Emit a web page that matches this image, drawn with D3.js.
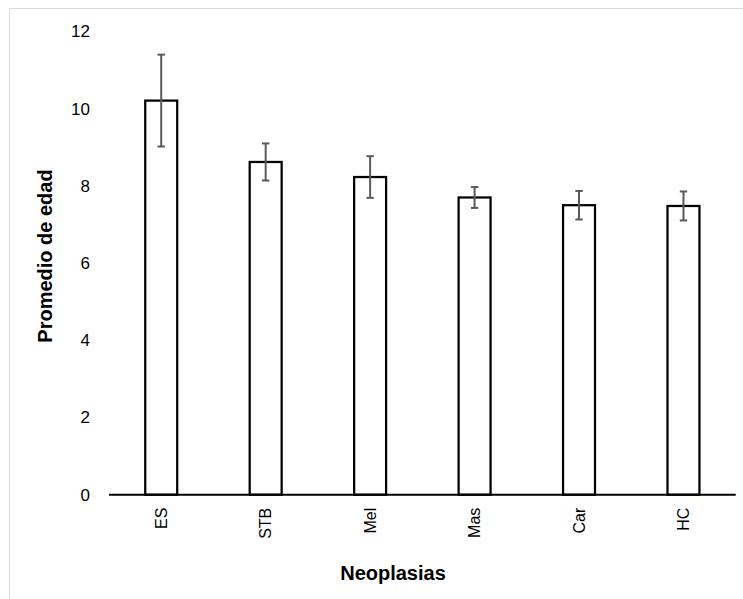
<!DOCTYPE html>
<html>
<head>
<meta charset="utf-8">
<script src="https://cdn.jsdelivr.net/npm/d3@7"></script>
<style>
  html, body { margin: 0; padding: 0; background: #fff; }
  svg { display: block; }
  text { font-family: "Liberation Sans", Arial, sans-serif; fill: #000; }
</style>
</head>
<body>
<svg id="chart" width="743" height="599"></svg>
<script>
// Data
const categories = ["ES", "STB", "Mel", "Mas", "Car", "HC"];
const means      = [10.21, 8.62, 8.23, 7.70, 7.50, 7.48];
const errors     = [1.19, 0.48, 0.54, 0.27, 0.37, 0.375];
const yTicks     = [0, 2, 4, 6, 8, 10, 12];
const xTitle = "Neoplasias";
const yTitle = "Promedio de edad";

const svg = d3.select("#chart");

// chart border
svg.append("rect")
  .attr("x", 9.5).attr("y", 8.5)
  .attr("width", 900).attr("height", 900)
  .attr("fill", "none").attr("stroke", "#d9d9d9").attr("stroke-width", 1);

const x = d3.scaleBand()
  .domain(categories)
  .range([109, 735.7])
  .paddingInner(0.694)
  .paddingOuter(0.347);

const y = d3.scaleLinear().domain([0, 12]).range([494.7, 31.5]);

const data = categories.map((c, i) => ({ c, m: means[i], e: errors[i] }));

// bars
svg.append("g").selectAll("rect")
  .data(data).join("rect")
  .attr("x", d => x(d.c))
  .attr("y", d => y(d.m))
  .attr("width", x.bandwidth())
  .attr("height", d => y(0) - y(d.m))
  .attr("fill", "#fff")
  .attr("stroke", "#000")
  .attr("stroke-width", 2.25);

// x axis line
svg.append("line")
  .attr("x1", x.range()[0]).attr("x2", x.range()[1])
  .attr("y1", y(0)).attr("y2", y(0))
  .attr("stroke", "#000").attr("stroke-width", 2);

// error bars
const eb = svg.append("g").attr("stroke", "#595959").attr("stroke-width", 2).attr("fill", "none");
data.forEach(d => {
  const cx = x(d.c) + x.bandwidth() / 2;
  eb.append("line").attr("x1", cx).attr("x2", cx).attr("y1", y(d.m + d.e)).attr("y2", y(d.m - d.e));
  eb.append("line").attr("x1", cx - 3.7).attr("x2", cx + 3.7).attr("y1", y(d.m + d.e)).attr("y2", y(d.m + d.e));
  eb.append("line").attr("x1", cx - 3.7).attr("x2", cx + 3.7).attr("y1", y(d.m - d.e)).attr("y2", y(d.m - d.e));
});

// y axis (labels only)
const yAxis = d3.axisLeft(y).tickValues(yTicks).tickSize(0).tickPadding(0).tickFormat(d3.format("d"));
const gy = svg.append("g").attr("transform", "translate(90,0)").call(yAxis);
gy.select(".domain").remove();
gy.selectAll("text")
  .attr("font-size", 17)
  .attr("font-family", "Liberation Sans, Arial, sans-serif")
  .attr("fill", "#000");

// x axis labels (rotated)
const xAxis = d3.axisBottom(x).tickSize(0).tickPadding(0);
const gx = svg.append("g").attr("transform", `translate(0,${y(0)})`).call(xAxis);
gx.select(".domain").remove();
gx.selectAll("text")
  .attr("font-size", 16)
  .attr("font-family", "Liberation Sans, Arial, sans-serif")
  .attr("fill", "#000")
  .attr("text-anchor", "end")
  .attr("dy", "0.35em")
  .attr("transform", "translate(0,13) rotate(-90)")
  .attr("x", 0).attr("y", 0);

// titles
svg.append("text")
  .attr("x", 393).attr("y", 579.5)
  .attr("text-anchor", "middle")
  .attr("font-size", 20).attr("font-weight", "bold")
  .text(xTitle);

svg.append("text")
  .attr("transform", "translate(52,256) rotate(-90)")
  .attr("text-anchor", "middle")
  .attr("font-size", 20).attr("font-weight", "bold")
  .text(yTitle);
</script>
</body>
</html>
